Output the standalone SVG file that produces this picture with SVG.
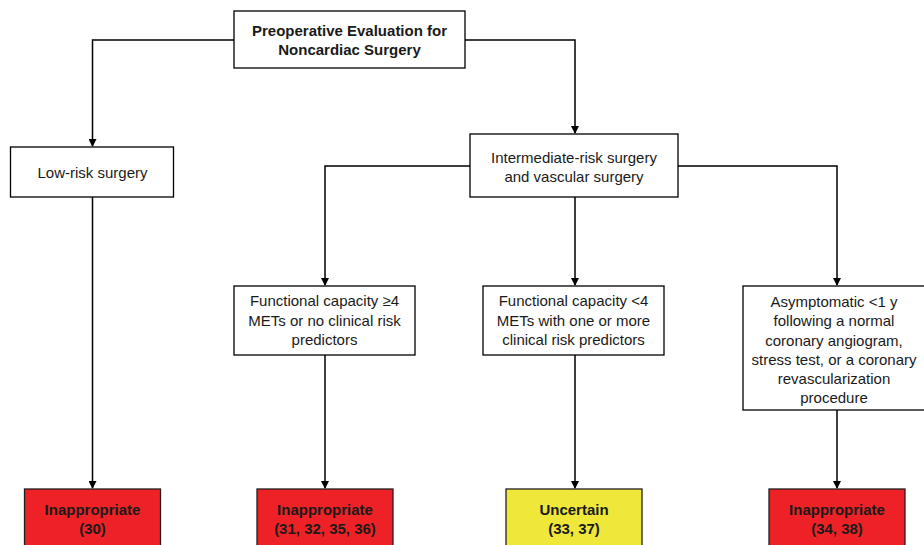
<svg xmlns="http://www.w3.org/2000/svg" width="924" height="545" viewBox="0 0 924 545">
  <style>
    .box { fill: #ffffff; stroke: #000000; stroke-width: 1.3; }
    .bad { fill: #ee2226; stroke: #231f20; stroke-width: 1.3; }
    .mid { fill: #efe83a; stroke: #231f20; stroke-width: 1.3; }
    .t { font-family: "Liberation Sans", Arial, sans-serif; font-size: 15px; fill: #1a1a1a; text-anchor: middle; }
    .b { font-weight: bold; }
    .link { fill: none; stroke: #000000; stroke-width: 1.5; }
  </style>
  <defs>
    <marker id="arrow" markerWidth="8" markerHeight="8" refX="7" refY="4" orient="auto" markerUnits="userSpaceOnUse">
      <path d="M0,0 L8,4 L0,8 Z" fill="#000000"/>
    </marker>
  </defs>
  <rect width="924" height="545" fill="#ffffff"/>

  <g id="connectors">
    <path class="link" d="M234,40 H92.5 V146" marker-end="url(#arrow)"/>
    <path class="link" d="M465,40 H575 V133" marker-end="url(#arrow)"/>
    <path class="link" d="M470,166 H325 V285" marker-end="url(#arrow)"/>
    <path class="link" d="M678,166 H837 V285" marker-end="url(#arrow)"/>
    <path class="link" d="M575,197 V285" marker-end="url(#arrow)"/>
    <path class="link" d="M92.5,197 V488" marker-end="url(#arrow)"/>
    <path class="link" d="M325,355 V488" marker-end="url(#arrow)"/>
    <path class="link" d="M575,355 V488" marker-end="url(#arrow)"/>
    <path class="link" d="M837,410 V488" marker-end="url(#arrow)"/>
  </g>

  <g id="start">
    <rect class="box" x="234" y="11" width="231" height="57"/>
    <text class="t b" x="349.5" y="36">Preoperative Evaluation for</text>
    <text class="t b" x="349.5" y="55">Noncardiac Surgery</text>
  </g>

  <g id="low-risk">
    <rect class="box" x="10.5" y="147" width="163" height="50"/>
    <text class="t" x="92.5" y="178">Low-risk surgery</text>
  </g>

  <g id="intermediate-risk">
    <rect class="box" x="470" y="134" width="208" height="63"/>
    <text class="t" x="574" y="163">Intermediate-risk surgery</text>
    <text class="t" x="574" y="182">and vascular surgery</text>
  </g>

  <g id="capacity-high">
    <rect class="box" x="234" y="286" width="181" height="69"/>
    <text class="t" x="324.5" y="306">Functional capacity ≥4</text>
    <text class="t" x="324.5" y="326">METs or no clinical risk</text>
    <text class="t" x="324.5" y="345">predictors</text>
  </g>

  <g id="capacity-low">
    <rect class="box" x="483" y="286" width="181" height="69"/>
    <text class="t" x="573.5" y="306">Functional capacity &lt;4</text>
    <text class="t" x="573.5" y="326">METs with one or more</text>
    <text class="t" x="573.5" y="345">clinical risk predictors</text>
  </g>

  <g id="asymptomatic">
    <rect class="box" x="743" y="286" width="182" height="124"/>
    <text class="t" x="834" y="307">Asymptomatic &lt;1 y</text>
    <text class="t" x="834" y="326">following a normal</text>
    <text class="t" x="834" y="346">coronary angiogram,</text>
    <text class="t" x="834" y="365">stress test, or a coronary</text>
    <text class="t" x="834" y="384">revascularization</text>
    <text class="t" x="834" y="403">procedure</text>
  </g>

  <g id="result-30">
    <rect class="bad" x="24.5" y="489" width="136" height="60"/>
    <text class="t b" x="92.5" y="515">Inappropriate</text>
    <text class="t b" x="92.5" y="534">(30)</text>
  </g>

  <g id="result-31">
    <rect class="bad" x="257" y="489" width="136" height="60"/>
    <text class="t b" x="325" y="515">Inappropriate</text>
    <text class="t b" x="325" y="534">(31, 32, 35, 36)</text>
  </g>

  <g id="result-33">
    <rect class="mid" x="506" y="489" width="136" height="60"/>
    <text class="t b" x="574" y="515">Uncertain</text>
    <text class="t b" x="574" y="534">(33, 37)</text>
  </g>

  <g id="result-34">
    <rect class="bad" x="769" y="489" width="136" height="60"/>
    <text class="t b" x="837" y="515">Inappropriate</text>
    <text class="t b" x="837" y="534">(34, 38)</text>
  </g>
</svg>
